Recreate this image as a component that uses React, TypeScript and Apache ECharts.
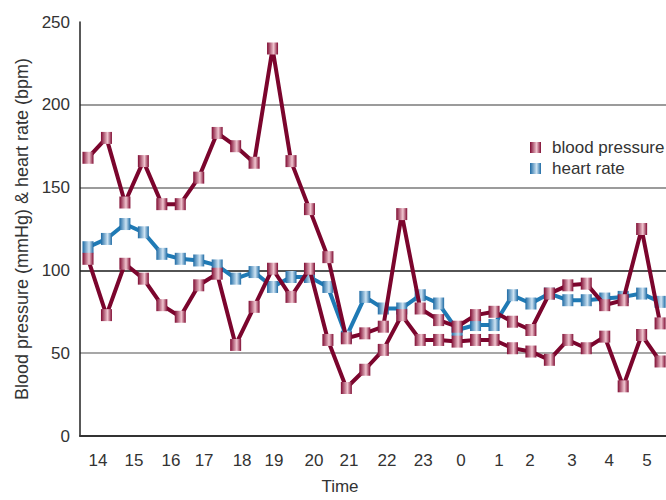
import React, { useEffect, useRef } from "react";
import * as echarts from "echarts";

// Readings, one every half hour (sample index 0..31)
const systolic = [168, 180, 141, 166, 140, 140, 156, 183, 175, 165, 234, 166, 137, 108, 59, 62, 66, 134, 77, 70, 66, 73, 75, 69, 64, 86, 91, 92, 79, 82, 125, 68];
const diastolic = [107, 73, 104, 95, 79, 72, 91, 98, 55, 78, 101, 84, 101, 58, 29, 40, 52, 73, 58, 58, 57, 58, 58, 53, 51, 46, 58, 53, 60, 30, 61, 45];
const heartRate = [114, 119, 128, 123, 110, 107, 106, 103, 95, 99, 90, 96, 96, 90, 60, 84, 77, 77, 85, 80, 64, 67, 67, 85, 80, 86, 82, 82, 83, 84, 86, 81];

// Hour tick labels and where they sit, in sample-index units
const hourLabels = ["14", "15", "16", "17", "18", "19", "20", "21", "22", "23", "0", "1", "2", "3", "4", "5"];
const hourLabelAt = [0.54, 2.49, 4.5, 6.29, 8.35, 10.08, 12.25, 14.14, 16.2, 18.16, 20.21, 22.27, 23.95, 26.23, 28.24, 30.29];

const yTicks = [0, 50, 100, 150, 200, 250];

const FONT = "'Liberation Sans', Arial, sans-serif";
const TEXT = "#333333";

const redGrad = new echarts.graphic.LinearGradient(0, 0, 1, 0, [
  { offset: 0, color: "#7f0a31" },
  { offset: 0.6, color: "#f0c6d0" },
  { offset: 1, color: "#7f0a31" },
]);
const blueGrad = new echarts.graphic.LinearGradient(0, 0, 1, 0, [
  { offset: 0, color: "#1d6aa4" },
  { offset: 0.6, color: "#cfe4f3" },
  { offset: 1, color: "#1d6aa4" },
]);

export default function App() {
  const ref = useRef<HTMLDivElement>(null);
  useEffect(() => {
    if (!ref.current) return;
    const chart = echarts.init(ref.current, null, { renderer: "svg" });
    const toPts = (arr: number[]) => arr.map((v, i) => [i, v]);
    const common = {
      type: "line",
      symbol: "rect",
      symbolSize: [11, 12],
      clip: false,
      showAllSymbol: true,
    };
    chart.setOption({
      animation: false,
      textStyle: { fontFamily: FONT },
      grid: { left: 80, top: 22, right: 0, bottom: 59 },
      legend: {
        orient: "vertical",
        left: 525,
        top: 134,
        itemWidth: 11,
        itemHeight: 11,
        itemGap: 4,
        icon: "rect",
        data: [
          { name: "blood pressure", itemStyle: { color: redGrad } },
          { name: "heart rate", itemStyle: { color: blueGrad } },
        ],
        textStyle: { fontSize: 17, color: TEXT, fontFamily: FONT, padding: [0, 0, 0, 6] },
      },
      xAxis: {
        type: "value",
        min: -0.4336,
        max: 31.32,
        name: "Time",
        nameLocation: "middle",
        nameGap: 42,
        nameTextStyle: { fontSize: 17, color: TEXT, fontFamily: FONT, padding: [0, 66, 0, 0] },
        axisLine: { show: true, onZero: false, lineStyle: { color: "#333", width: 2 } },
        axisTick: { show: false },
        splitLine: { show: false },
        axisLabel: {
          customValues: hourLabelAt,
          margin: 16,
          fontSize: 17,
          color: TEXT,
          fontFamily: FONT,
          formatter: (v: number) => {
            const k = hourLabelAt.findIndex((p) => Math.abs(p - v) < 1e-6);
            return k >= 0 ? hourLabels[k] : "";
          },
        },
      },
      yAxis: {
        type: "value",
        min: yTicks[0],
        max: yTicks[yTicks.length - 1],
        interval: 50,
        name: "Blood pressure (mmHg) & heart rate (bpm)",
        nameLocation: "middle",
        nameGap: 45,
        nameTextStyle: { fontSize: 18, color: TEXT, fontFamily: FONT },
        axisLine: { show: true, onZero: false, lineStyle: { color: "#222", width: 1.5 } },
        axisTick: { show: false },
        axisLabel: { margin: 10, fontSize: 17, color: TEXT, fontFamily: FONT },
        splitLine: {
          show: true,
          lineStyle: {
            color: ["#888", "#8a8a8a", "#1a1a1a", "#7a7a7a", "#7a7a7a", "rgba(0,0,0,0)"],
            width: 1.6,
          },
        },
      },
      series: [
        {
          ...common,
          name: "heart rate",
          data: toPts(heartRate),
          itemStyle: { color: blueGrad },
          lineStyle: { color: "#1f7ab5", width: 4 },
          z: 2,
        },
        {
          ...common,
          name: "blood pressure",
          data: toPts(diastolic),
          itemStyle: { color: redGrad },
          lineStyle: { color: "#7b052d", width: 4 },
          z: 3,
        },
        {
          ...common,
          name: "blood pressure",
          data: toPts(systolic),
          itemStyle: { color: redGrad },
          lineStyle: { color: "#7b052d", width: 4 },
          z: 3,
        },
      ],
    });
    return () => chart.dispose();
  }, []);
  return (
    <div
      ref={ref}
      style={{ position: "absolute", left: 0, top: 0, width: 666, height: 500 }}
    />
  );
}
